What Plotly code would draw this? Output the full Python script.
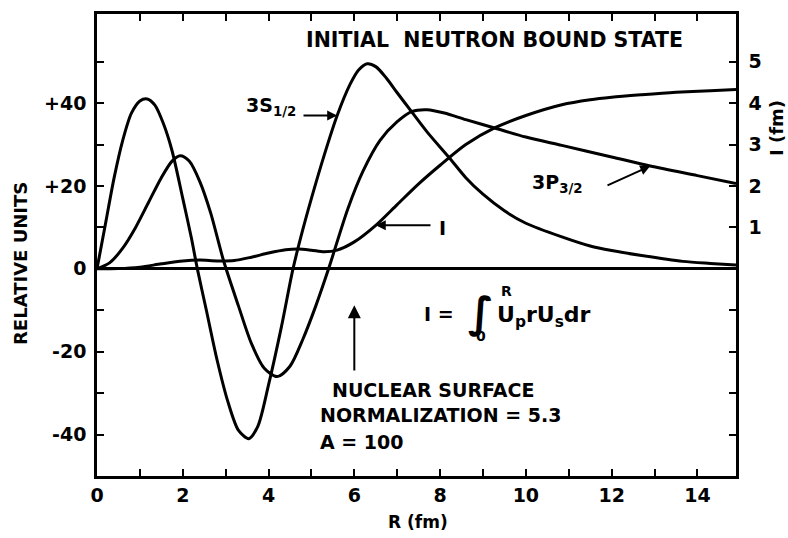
import numpy as np
import plotly.graph_objects as go

# ---------------- data ----------------
R_3s = [0, 0.2, 0.4, 0.6, 0.8, 1.0, 1.17, 1.35, 1.55, 1.75, 2.0, 2.2, 2.34, 2.55, 2.8,
        3.05, 3.3, 3.54, 3.75, 4.0, 4.3, 4.57, 4.8, 5.0, 5.3, 5.6, 5.9, 6.1, 6.3, 6.5,
        6.75, 7.0, 7.33, 7.7, 8.2, 8.6, 9.0, 9.5, 10.0, 10.84, 11.5, 12.0, 12.7, 13.66,
        14.3, 14.9]
U_3s = [0, 11, 22, 31, 37.5, 40.5, 41, 39.5, 35, 28.5, 17, 7.5, 0, -10, -22,
        -32, -39, -41, -38, -28, -14, 0, 9.5, 17, 27.5, 37, 44.5, 48, 49.5, 48.8,
        46, 42.5, 38, 33, 27, 22, 18, 14, 11, 7.7, 5.5, 4.4, 3.2, 1.8,
        1.3, 0.9]

R_3p = [0, 0.3, 0.6, 0.9, 1.2, 1.5, 1.75, 1.94, 2.15, 2.4, 2.65, 2.95, 3.3, 3.6, 3.9,
        4.2, 4.5, 4.8, 5.1, 5.4, 5.85, 6.2, 6.6, 7.0, 7.35, 7.7, 8.1, 8.6, 9.27, 10.0,
        10.84, 12.0, 12.9, 14.0, 14.9]
U_3p = [0, 1.5, 5, 10, 16, 22, 26, 27.3, 26, 21, 13.5, 2, -9, -18, -24,
        -26, -23.5, -17, -9, 0, 14.5, 23.5, 31, 35.5, 38, 38.4, 37.6, 36, 34, 31.8,
        29.8, 27, 24.8, 22.5, 20.6]

R_I = [0, 0.5, 1.0, 1.5, 2.0, 2.4, 2.8, 3.2, 3.6, 4.0, 4.4, 4.7, 5.0, 5.3, 5.6, 6.0,
       6.5, 7.0, 7.5, 8.0, 8.6, 9.27, 10.0, 10.84, 11.5, 12.0, 12.7, 13.5, 14.3, 14.9]
I_fm = [0, 0.005, 0.04, 0.12, 0.19, 0.21, 0.19, 0.2, 0.28, 0.38, 0.46, 0.48, 0.45, 0.41,
        0.45, 0.65, 1.05, 1.55, 2.05, 2.5, 3.0, 3.4, 3.7, 3.96, 4.08, 4.14, 4.2, 4.26,
        4.3, 4.33]

x_tickvals = list(range(0, 15))
x_ticktext = [str(v) if v % 2 == 0 else "" for v in x_tickvals]
yl_tickvals = [-40, -30, -20, -10, 0, 10, 20, 30, 40, 50]
yl_ticktext = ["-40", "", "-20", "", "0", "", "+20", "", "+40", ""]
yr_tickvals = [-4, -3, -2, -1, 1, 2, 3, 4, 5]
yr_ticktext = ["", "", "", "", "1", "2", "3", "4", "5"]

# ---------------- layout geometry ----------------
W_FIG, H_FIG = 788, 538
ML, MR, MT, MB = 97, 52, 14, 62
PW, PH = W_FIG - ML - MR, H_FIG - MT - MB
XR = [0, 14.9]
YL = [-50, 61.5]
YR = [YL[0] / 10, YL[1] / 10]


def xp(px):
    return (px - ML) / PW


def yp(py):
    return 1 - (py - MT) / PH


def px_of(x):
    return ML + (x - XR[0]) / (XR[1] - XR[0]) * PW


def py_of(y):
    return MT + (YL[1] - y) / (YL[1] - YL[0]) * PH


FONT = "DejaVu Sans"
BLACK = "black"

fig = go.Figure()
line = dict(color=BLACK, width=3, shape="spline", smoothing=0.8)
fig.add_trace(go.Scatter(x=R_3s, y=U_3s, mode="lines", line=line, name="3S1/2",
                         showlegend=False, hoverinfo="skip"))
fig.add_trace(go.Scatter(x=R_3p, y=U_3p, mode="lines", line=line, name="3P3/2",
                         showlegend=False, hoverinfo="skip"))
fig.add_trace(go.Scatter(x=R_I, y=I_fm, mode="lines", line=line, name="I", yaxis="y2",
                         showlegend=False, hoverinfo="skip"))

tickfont = dict(family=FONT, size=19, color=BLACK, weight="bold")

fig.update_layout(
    width=W_FIG, height=H_FIG,
    margin=dict(l=ML, r=MR, t=MT, b=MB, pad=0),
    paper_bgcolor="white", plot_bgcolor="white",
    font=dict(family=FONT, color=BLACK, weight="bold"),
    xaxis=dict(range=XR, tickmode="array", tickvals=x_tickvals, ticktext=x_ticktext,
               ticks="inside", ticklen=7, tickwidth=2, tickcolor=BLACK,
               showline=True, linewidth=2.5, linecolor=BLACK, mirror="ticks",
               showgrid=False, zeroline=False, tickfont=tickfont,
               ticklabelstandoff=0),
    yaxis=dict(range=YL, tickmode="array", tickvals=yl_tickvals, ticktext=yl_ticktext,
               ticks="inside", ticklen=7, tickwidth=2, tickcolor=BLACK,
               showline=True, linewidth=2.5, linecolor=BLACK,
               showgrid=False, zeroline=True, zerolinecolor=BLACK, zerolinewidth=2.5,
               tickfont=tickfont, ticklabelstandoff=4),
    yaxis2=dict(range=YR, overlaying="y", side="right", tickmode="array",
                tickvals=yr_tickvals, ticktext=yr_ticktext,
                ticks="inside", ticklen=7, tickwidth=2, tickcolor=BLACK,
                showline=True, linewidth=2.5, linecolor=BLACK,
                showgrid=False, zeroline=False, tickfont=tickfont,
                ticklabelstandoff=6),
)

ann = []


def text(px, py, s, size=19, xanchor="center", yanchor="middle", angle=0):
    ann.append(dict(xref="paper", yref="paper", x=xp(px), y=yp(py), text=s,
                    showarrow=False, xanchor=xanchor, yanchor=yanchor, textangle=angle,
                    font=dict(family=FONT, size=size, color=BLACK, weight="bold")))


def arrow(xd, yd, tail_px, tail_py, head=2, size=1.0, width=2):
    hx, hy = px_of(xd), py_of(yd)
    ann.append(dict(xref="x", yref="y", x=xd, y=yd, text="", showarrow=True,
                    axref="pixel", ayref="pixel", ax=tail_px - hx, ay=tail_py - hy,
                    arrowhead=head, arrowsize=size, arrowwidth=width, arrowcolor=BLACK,
                    standoff=0, startstandoff=0))


# axis titles
text(20, 264, "RELATIVE UNITS", size=18, angle=-90)
text(777, 128, "I (fm)", size=18, angle=-90)
text(418, 522, "R (fm)", size=17)

# title
text(494, 40, "INITIAL\u00a0\u00a0NEUTRON BOUND STATE", size=20.5)

# curve labels
text(298, 106, "3S<sub>1/2</sub>", size=19, xanchor="right")
x_s = 5.6
arrow(x_s, float(np.interp(x_s, R_3s, U_3s)), 302, py_of(float(np.interp(x_s, R_3s, U_3s))))

text(530, 183, "3P<sub>3/2</sub>", size=19, xanchor="left")
x_p = 12.9
arrow(x_p, float(np.interp(x_p, R_3p, U_3p)), 606, 186)

x_i = 6.5
y_i = float(np.interp(x_i, R_I, I_fm)) * 10
text(442, py_of(y_i) + 3, "I", size=19)
arrow(x_i, y_i, 432, py_of(y_i))

# formula
text(439, 314, "I =", size=19)
text(481, 312, "\u222b", size=42, yanchor="middle")
text(506, 291, "R", size=14)
text(481, 336, "0", size=14)
text(495, 316, "U<sub>p</sub>rU<sub>s</sub>dr", size=22, xanchor="left")

# nuclear surface
arrow(6.0, -8.8, px_of(6.0), 372, head=2, size=1.3, width=2)
text(330, 390, "NUCLEAR SURFACE", size=19, xanchor="left")
text(318, 415, "NORMALIZATION = 5.3", size=19, xanchor="left")
text(318, 442, "A = 100", size=19, xanchor="left")

fig.update_layout(annotations=ann)
fig.write_html("out.html")
